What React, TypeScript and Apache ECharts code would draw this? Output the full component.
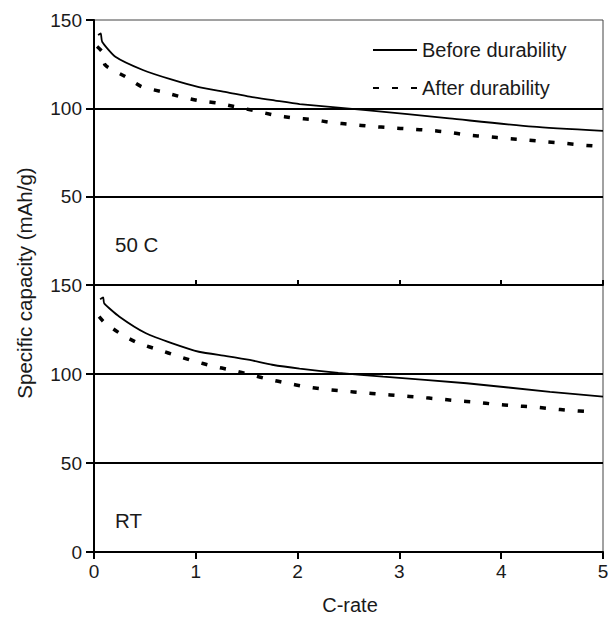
import React, { useEffect, useRef } from "react";
import * as echarts from "echarts";

const xTicks = [0, 1, 2, 3, 4, 5];
const yTicks = [0, 50, 100, 150];
const gridValues = [50, 100];
const seriesNames = ["Before durability", "After durability"];
const panelLabels = ["50 C", "RT"];

const before50C: number[][] = [
  [0.04, 141.5], [0.066, 142.4], [0.08, 137.7], [0.21, 129.2], [0.48, 121.7],
  [0.75, 116.5], [1.03, 112], [1.3, 109.2], [1.53, 106.6], [1.78, 104.4],
  [2.02, 102.4], [2.67, 99], [3.49, 94.3], [4.31, 89.6], [5, 87.2],
];
const after50C: number[][] = [
  [0.03, 135], [0.08, 132], [0.11, 124.5], [0.31, 117.9], [0.47, 112.2],
  [0.67, 109.4], [0.85, 106.6], [1.03, 104.3], [1.21, 103], [1.41, 100.6],
  [1.59, 98.5], [1.77, 96.2], [1.97, 94.5], [2.15, 93.6], [2.34, 91.9],
  [2.53, 90.9], [2.72, 89.8], [2.92, 89], [3.1, 88.3], [3.3, 87.5],
  [3.47, 86.6], [3.67, 84.9], [3.87, 83.9], [4.05, 83], [4.25, 82.1],
  [4.44, 81.1], [4.63, 80.2], [4.8, 79.2], [5, 78.3],
];
const beforeRT: number[][] = [
  [0.06, 142], [0.09, 143], [0.1, 139.7], [0.25, 132.2], [0.51, 122.9],
  [0.77, 117.2], [1.03, 112.5], [1.3, 110.1], [1.53, 107.9], [1.75, 105.2],
  [2.02, 103], [2.4, 100.6], [2.84, 98.5], [3.66, 94.8], [4.48, 90], [5, 87.3],
];
const afterRT: number[][] = [
  [0.05, 132.2], [0.11, 128.5], [0.28, 121.9], [0.44, 117.2], [0.64, 113.5],
  [0.82, 110.1], [0.98, 107.3], [1.16, 104.5], [1.35, 102.2], [1.55, 99.4],
  [1.72, 97], [1.9, 94.8], [2.07, 92.9], [2.27, 91.4], [2.46, 90.4],
  [2.64, 89.5], [2.82, 88.6], [3, 87.8], [3.2, 86.9], [3.38, 86],
  [3.56, 85], [3.76, 84.1], [3.94, 83], [4.12, 82.2], [4.31, 81.5],
  [4.49, 80.5], [4.67, 79.6], [4.87, 78.8],
];

const FONT = "'Liberation Sans', Arial, sans-serif";
const TXT = "#1a1a1a";

export default function App() {
  const ref = useRef<HTMLDivElement>(null);

  useEffect(() => {
    if (!ref.current) return;
    const chart = echarts.init(ref.current, undefined, { renderer: "svg" });

    const xMin = xTicks[0];
    const xMax = xTicks[xTicks.length - 1];
    const yMin = yTicks[0];
    const yMax = yTicks[yTicks.length - 1];

    const mkX = (idx: number, bottom: boolean) => ({
      type: "value",
      gridIndex: idx,
      min: xMin,
      max: xMax,
      interval: 1,
      axisLine: { show: true, onZero: false, lineStyle: { color: "#000", width: 2 } },
      axisTick: { show: true, inside: !bottom, length: bottom ? 7 : 5, lineStyle: { color: "#000", width: 2 } },
      axisLabel: {
        show: bottom,
        color: TXT,
        fontFamily: FONT,
        fontSize: 19,
        margin: 10,
      },
      splitLine: { show: false },
    });

    const mkY = (idx: number, hideZero: boolean) => ({
      type: "value",
      gridIndex: idx,
      min: yMin,
      max: yMax,
      interval: 50,
      axisLine: { show: true, onZero: false, lineStyle: { color: "#000", width: 2 } },
      axisTick: { show: true, length: 8, lineStyle: { color: "#000", width: 2 } },
      axisLabel: {
        color: TXT,
        fontFamily: FONT,
        fontSize: 19,
        margin: 12,
        formatter: (v: number) => (hideZero && v === 0 ? "" : String(v)),
      },
      splitLine: { show: false },
    });

    const gridMark = {
      silent: true,
      symbol: "none",
      label: { show: false },
      lineStyle: { color: "#000", width: 2, type: "solid" },
      data: gridValues.map((v) => ({ yAxis: v })),
    };

    const solid = (data: number[][], idx: number, withMark: boolean) => ({
      type: "line",
      name: seriesNames[0],
      xAxisIndex: idx,
      yAxisIndex: idx,
      data,
      symbol: "none",
      smooth: 0.2,
      lineStyle: { color: "#000", width: 1.8, type: "solid" },
      itemStyle: { color: "#000" },
      markLine: withMark ? gridMark : undefined,
      z: 3,
    });
    const dashed = (data: number[][], idx: number) => ({
      type: "line",
      name: seriesNames[1],
      xAxisIndex: idx,
      yAxisIndex: idx,
      data,
      symbol: "none",
      smooth: 0.2,
      lineStyle: { color: "#000", width: 3.5, type: [6, 13] },
      itemStyle: { color: "#000" },
      z: 3,
    });

    chart.setOption({
      animation: false,
      backgroundColor: "#fff",
      grid: [
        { left: 94, right: 10, top: 20, height: 265, show: true, borderColor: "#444", borderWidth: 1, backgroundColor: "transparent" },
        { left: 94, right: 10, top: 285, height: 267, show: true, borderColor: "#444", borderWidth: 1, backgroundColor: "transparent" },
      ],
      xAxis: [mkX(0, false), mkX(1, true)],
      yAxis: [mkY(0, true), mkY(1, false)],
      legend: {
        data: seriesNames,
        orient: "vertical",
        left: 372,
        top: 40,
        padding: 0,
        itemWidth: 44,
        itemHeight: 14,
        itemGap: 18,
        itemStyle: { opacity: 0 },
        textStyle: { color: TXT, fontFamily: FONT, fontSize: 20 },
        selectedMode: false,
      },
      graphic: [
        {
          type: "text",
          x: 24,
          y: 283,
          rotation: Math.PI / 2,
          style: {
            text: "Specific capacity (mAh/g)",
            fill: TXT,
            font: `20.5px ${FONT}`,
            align: "center",
            verticalAlign: "middle",
          },
        },
        {
          type: "text",
          x: 350,
          y: 605,
          style: {
            text: "C-rate",
            fill: TXT,
            font: `20px ${FONT}`,
            align: "center",
            verticalAlign: "middle",
          },
        },
        {
          type: "text",
          x: 115,
          y: 244,
          style: { text: panelLabels[0], fill: TXT, font: `20.5px ${FONT}`, verticalAlign: "middle" },
        },
        {
          type: "text",
          x: 115,
          y: 520,
          style: { text: panelLabels[1], fill: TXT, font: `20.5px ${FONT}`, verticalAlign: "middle" },
        },
      ],
      series: [
        solid(before50C, 0, true),
        dashed(after50C, 0),
        solid(beforeRT, 1, true),
        dashed(afterRT, 1),
      ],
    });

    return () => chart.dispose();
  }, []);

  return (
    <div
      ref={ref}
      style={{ position: "fixed", left: 0, top: 0, width: 613, height: 618 }}
    />
  );
}
